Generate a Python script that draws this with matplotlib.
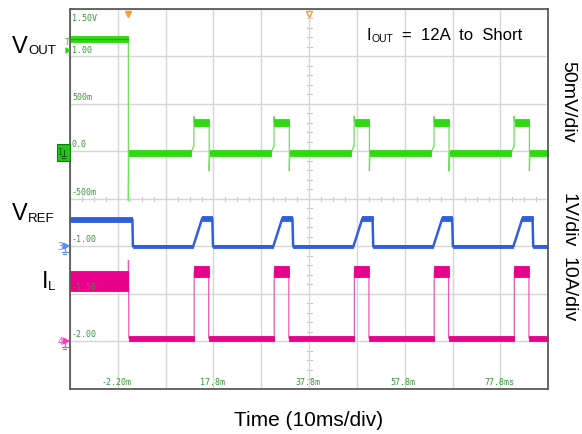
import numpy as np
import matplotlib.pyplot as plt
from matplotlib.patches import Rectangle, Polygon
from matplotlib.transforms import blended_transform_factory

W, H = 582, 435

# screen: time in ms (10ms/div), vertical in graticule volts (500mV/div)
t_left, t_right = -12.2, 87.8
y_bottom, y_top = -2.5, 1.5
time_label_pos = [-2.2, 17.8, 37.8, 57.8, 77.8]
time_labels = ["-2.20m", "17.8m", "37.8m", "57.8m", "77.8ms"]
volt_label_pos = [1.5, 1.0, 0.5, 0.0, -0.5, -1.0, -1.5, -2.0]
volt_labels = ["1.50V", "1.00", "500m", "0.0", "-500m", "-1.00", "-1.50", "-2.00"]

# short applied, then hiccup pulses (ms)
t_short = 0.0
pulse_on = [13.7, 30.45, 47.2, 63.9, 80.65]
pulse_off = [16.9, 33.65, 50.4, 67.05, 83.85]

# VOUT (green): persistence band (min, max) for each level
vout_pre = (1.15, 1.215)
vout_low = (-0.045, 0.015)
vout_high = (0.27, 0.34)
vout_drop = -0.52
vout_spike = 0.37
vout_dip = -0.205
vout_step = 0.05

# VREF (blue)
vref_pre = (-0.742, -0.69)
vref_low = (-1.02, -0.985)
vref_high = (-0.73, -0.678)
vref_fall_t = 0.85
vref_ramp_t = 1.75
vref_lag_t = 0.65

# IL (magenta)
il_pre = (-1.47, -1.26)
il_low = (-1.995, -1.945)
il_high = (-1.33, -1.21)
il_spike = -1.15

GREEN = '#2fd812'
GREEN_LINE = '#1fb400'
BLUE = '#2f5fdc'
MAGENTA = '#e6008a'
LABEL_GREEN = '#3a963a'
ORANGE = '#f5a02a'
FONT = 'Liberation Sans'

mid = lambda b: (b[0] + b[1]) / 2


def band(ax, t0, t1, b, color):
    ax.fill_between([t0, t1], [b[0], b[0]], [b[1], b[1]], color=color, lw=0.6, zorder=3)


fig = plt.figure(figsize=(W / 100, H / 100), dpi=100, facecolor='white')
ax = fig.add_axes([70 / W, 1 - 389.5 / H, 478.3 / W, 379.5 / H])
ax.set_xlim(t_left, t_right)
ax.set_ylim(y_bottom, y_top)
ax.set_xticks(np.linspace(t_left, t_right, 11))
ax.set_yticks(np.arange(y_bottom, y_top + 0.01, 0.5))
ax.grid(color='#d6d6d6', lw=1.0, zorder=0)
ax.tick_params(length=0, labelleft=False, labelbottom=False)
for s in ax.spines.values():
    s.set_color('#5a5a5a')
    s.set_linewidth(1.3)
    s.set_zorder(6)

# graticule minor ticks on the centre lines
tc, vc = (t_left + t_right) / 2, (y_bottom + y_top) / 2
for t in np.arange(t_left, t_right, 2.5):
    ax.plot([t, t], [vc - 0.02, vc + 0.02], color='#c8c8c8', lw=0.8, zorder=1)
for v in np.arange(y_bottom, y_top, 0.1):
    ax.plot([tc - 0.5, tc + 0.5], [v, v], color='#c8c8c8', lw=0.8, zorder=1)

# ---- VOUT ----
tv = [t_left, t_short, t_short, t_short + 0.1]
yv = [mid(vout_pre), mid(vout_pre), vout_drop, mid(vout_low)]
for on, off in zip(pulse_on, pulse_off):
    tv += [on - 0.6, on - 0.1, on, on, on + 0.1, off, off, off + 0.1]
    yv += [mid(vout_low), vout_step, vout_step, vout_spike, mid(vout_high),
           mid(vout_high), vout_dip, mid(vout_low)]
tv.append(t_right)
yv.append(mid(vout_low))
ax.plot(tv, yv, color='#6fe05a', lw=0.9, zorder=3)
band(ax, t_left, t_short, vout_pre, GREEN)
starts = [t_short + 0.1] + [off + 0.1 for off in pulse_off]
ends = [on - 0.6 for on in pulse_on] + [t_right]
for a, b in zip(starts, ends):
    band(ax, a, b, vout_low, GREEN)
for on, off in zip(pulse_on, pulse_off):
    band(ax, on + 0.1, off, vout_high, GREEN)
ax.plot([t_left, t_short], [mid(vout_pre)] * 2, color=GREEN_LINE, lw=0.8, zorder=4)

# ---- VREF ----
tr = [t_left, t_short + vref_fall_t, t_short + vref_fall_t + 0.1]
yr = [mid(vref_pre), mid(vref_pre), mid(vref_low)]
for on, off in zip(pulse_on, pulse_off):
    tr += [on - 0.15, on + vref_ramp_t, off + vref_lag_t, off + vref_lag_t + 0.15]
    yr += [mid(vref_low), mid(vref_high), mid(vref_high), mid(vref_low)]
tr.append(t_right)
yr.append(mid(vref_low))
ax.plot(tr, yr, color=BLUE, lw=1.8, zorder=3)
band(ax, t_left, t_short + vref_fall_t, vref_pre, BLUE)
starts = [t_short + vref_fall_t + 0.1] + [off + vref_lag_t + 0.15 for off in pulse_off]
ends = [on - 0.15 for on in pulse_on] + [t_right]
for a, b in zip(starts, ends):
    band(ax, a, b, vref_low, BLUE)
for on, off in zip(pulse_on, pulse_off):
    band(ax, on + vref_ramp_t, off + vref_lag_t, vref_high, BLUE)

# ---- IL ----
ti = [t_left, t_short, t_short, t_short + 0.05, t_short + 0.1]
yi = [mid(il_pre), mid(il_pre), il_spike, il_spike, mid(il_low)]
for on, off in zip(pulse_on, pulse_off):
    ti += [on + 0.05, on + 0.05, off - 0.1, off - 0.1]
    yi += [mid(il_low), mid(il_high), mid(il_high), mid(il_low)]
ti.append(t_right)
yi.append(mid(il_low))
ax.plot(ti, yi, color='#ea5aae', lw=0.9, zorder=3)
band(ax, t_left, t_short, il_pre, MAGENTA)
starts = [t_short + 0.1] + [off - 0.1 for off in pulse_off]
ends = [on + 0.05 for on in pulse_on] + [t_right]
for a, b in zip(starts, ends):
    band(ax, a, b, il_low, MAGENTA)
for on, off in zip(pulse_on, pulse_off):
    band(ax, on + 0.05, off - 0.1, il_high, MAGENTA)

# scope readouts
xa = blended_transform_factory(ax.transAxes, ax.transData)
for v, lab in zip(volt_label_pos, volt_labels):
    dy = -0.045 if v == y_top else 0.03
    ax.text(0.004, v + dy, lab, transform=xa, fontsize=6, family='DejaVu Sans Mono',
            color=LABEL_GREEN, va='top' if v == y_top else 'bottom', ha='left', zorder=7)
for t, lab in zip(time_label_pos, time_labels):
    ax.text(t - 0.3, y_bottom + 0.03, lab, fontsize=6, family='DejaVu Sans Mono',
            color=LABEL_GREEN, ha='center', va='bottom', zorder=7)

# trigger markers
ya = blended_transform_factory(ax.transData, ax.transAxes)
ax.plot([t_short], [0.986], marker='v', ms=4.5, color=ORANGE, transform=ya, clip_on=False, zorder=8)
ax.plot([tc], [0.986], marker='v', ms=4.5, mfc='white', mec=ORANGE, mew=1,
        transform=ya, clip_on=False, zorder=8)

# overlay in pixel coordinates for labels and channel markers
ov = fig.add_axes([0, 0, 1, 1])
ov.set_xlim(0, W)
ov.set_ylim(H, 0)
ov.axis('off')
ov.patch.set_visible(False)

ov.text(12, 53, 'V', fontsize=17, family=FONT, va='baseline', ha='left')
ov.text(28, 54.5, 'OUT', fontsize=9.5, family=FONT, va='baseline', ha='left')
ov.text(12, 220, 'V', fontsize=17, family=FONT, va='baseline', ha='left')
ov.text(28, 222, 'REF', fontsize=9.5, family=FONT, va='baseline', ha='left')
ov.text(42, 288, 'I', fontsize=17, family=FONT, va='baseline', ha='left')
ov.text(47.5, 290.5, 'L', fontsize=9.5, family=FONT, va='baseline', ha='left')

ov.text(366, 40.5, 'I', fontsize=12, family=FONT, va='baseline', ha='left')
ov.text(371, 42.5, 'OUT', fontsize=7.5, family=FONT, va='baseline', ha='left')
ov.text(402, 40.5, '=  12A  to  Short', fontsize=12, family=FONT, va='baseline', ha='left')

ov.text(568, 102, '50mV/div', fontsize=14, family=FONT, rotation=270, ha='center', va='center')
ov.text(568, 220, '1V/div', fontsize=14, family=FONT, rotation=270, ha='center', va='center')
ov.text(568, 290, '10A/div', fontsize=14, family=FONT, rotation=270, ha='center', va='center')
ov.text(309, 426, 'Time (10ms/div)', fontsize=15, family=FONT, ha='center', va='baseline')

# channel 1 markers (green)
ov.text(64.5, 45, 'T', fontsize=6.5, family='DejaVu Sans Mono', color=GREEN, va='baseline')
ov.add_patch(Polygon([[66, 49], [70, 51.5], [66, 54]], closed=True, color=GREEN))
ov.add_patch(Rectangle((57.3, 145), 12.7, 17, fc='#22c41a', ec='#127a10', lw=0.8))
ov.text(60.5, 153, '1', fontsize=6, family='DejaVu Sans Mono', color='#0b5a0b', va='center', ha='center')
ov.plot([63.5, 63.5], [151, 156], color='#0b5a0b', lw=0.7)
ov.plot([61, 66], [156.5, 156.5], color='#0b5a0b', lw=0.7)
ov.plot([62, 65], [158.5, 158.5], color='#0b5a0b', lw=0.7)


def gnd_marker(y, label, color):
    ov.text(60.5, y, label, fontsize=7, family='DejaVu Sans Mono', color=color,
            va='center', ha='center')
    ov.add_patch(Polygon([[63.5, y - 2.8], [69, y], [63.5, y + 2.8]], closed=True, color=color))
    ov.plot([64.5, 64.5], [y, y + 5], color=color, lw=0.8)
    ov.plot([61.5, 67.5], [y + 5.5, y + 5.5], color=color, lw=0.8)
    ov.plot([62.8, 66.2], [y + 7.5, y + 7.5], color=color, lw=0.8)


gnd_marker(247, '3', '#5b8cf0')
gnd_marker(342, '4', '#ff3cc0')

fig.savefig('out.png', dpi=100, facecolor='white')
